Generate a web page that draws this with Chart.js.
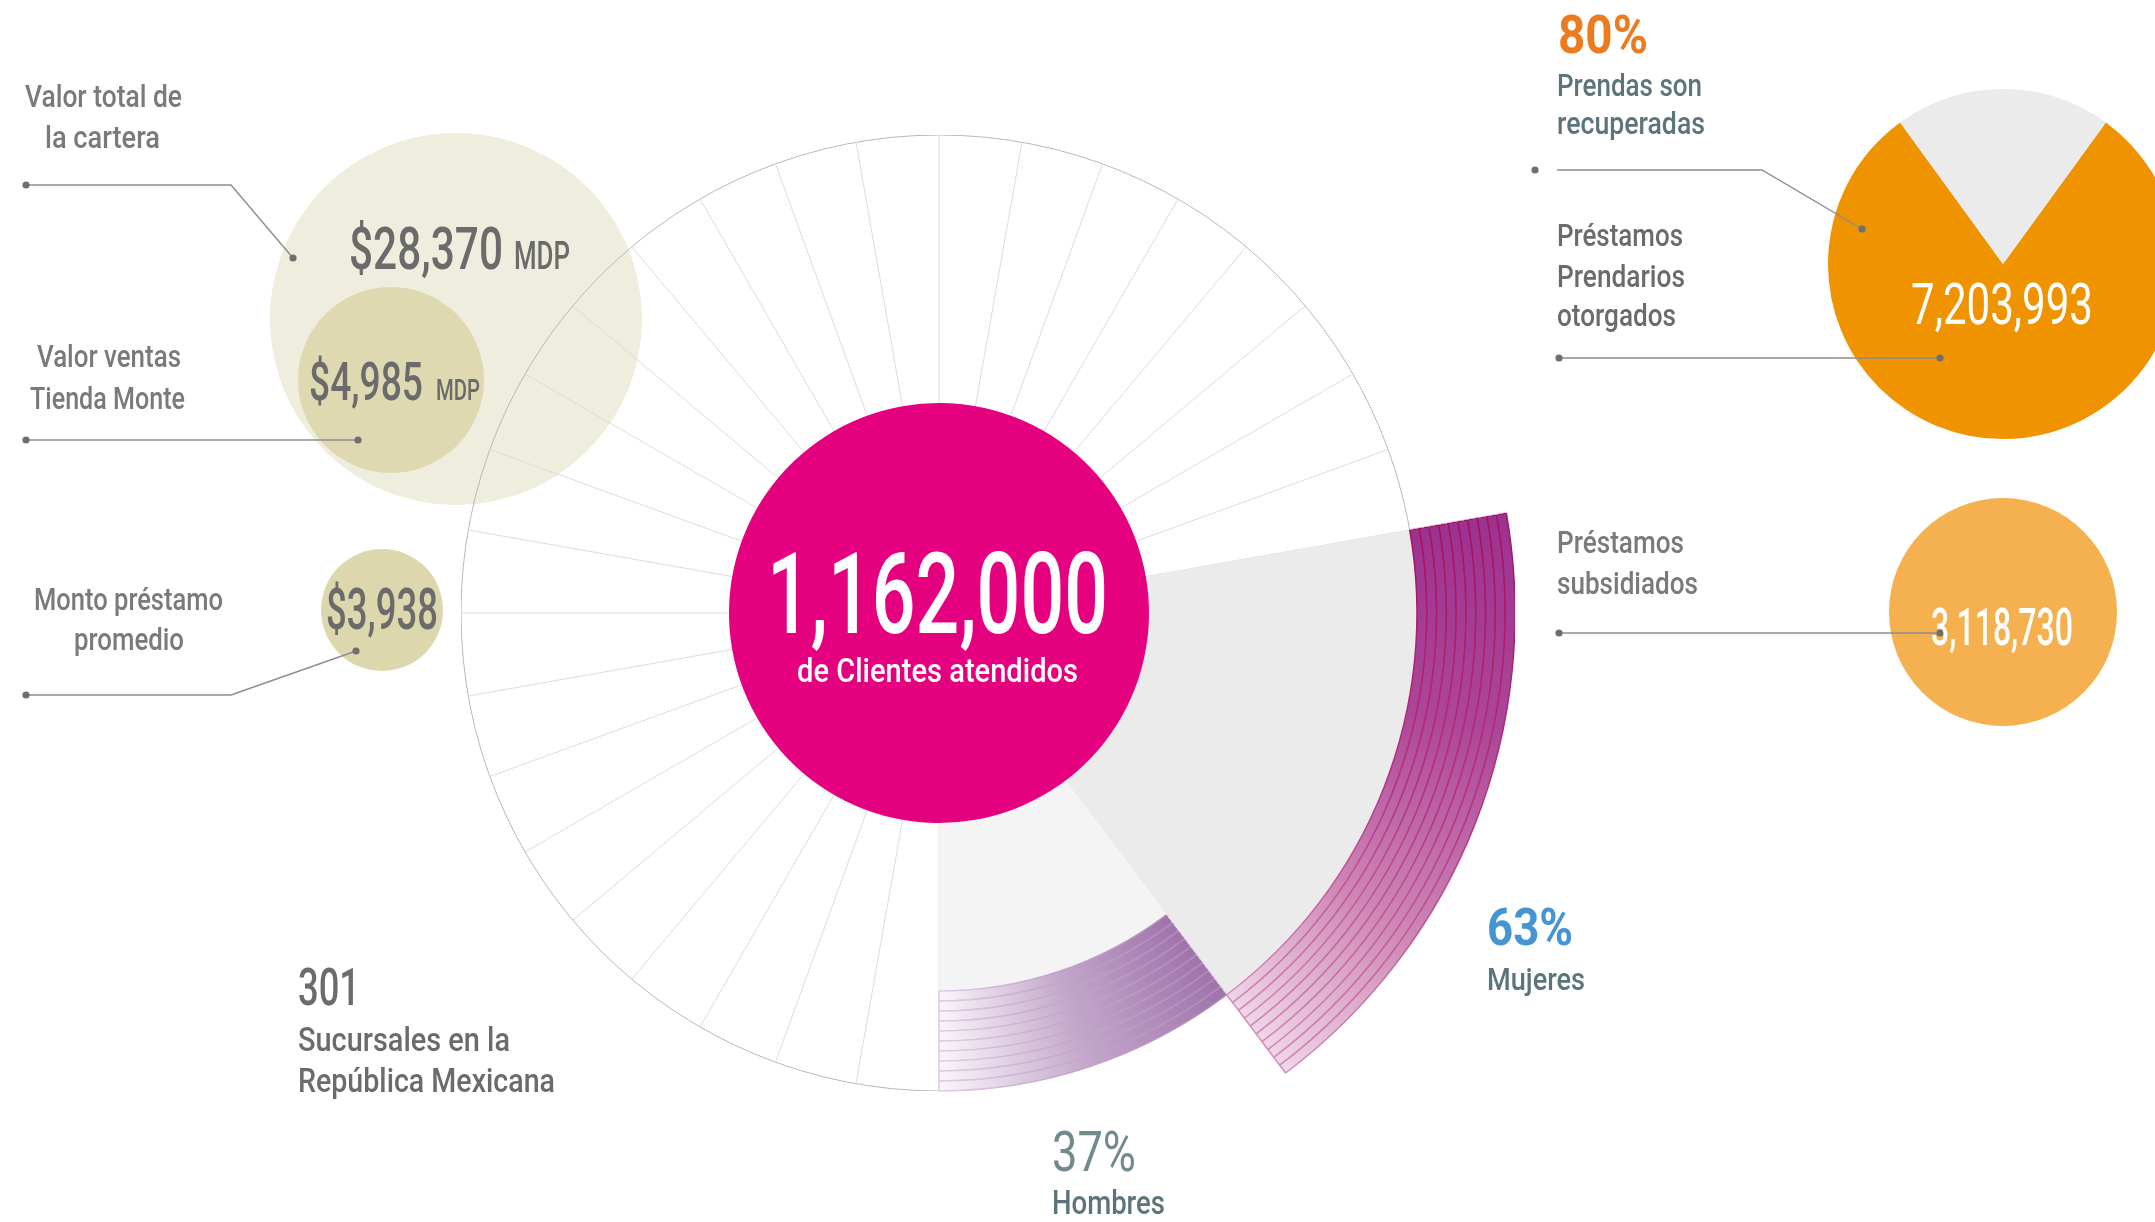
<!DOCTYPE html>
<html lang="es">
<head>
<meta charset="utf-8">
<title>Clientes atendidos</title>
<script src="https://cdn.jsdelivr.net/npm/chart.js@4.4.1/dist/chart.umd.min.js"></script>
<style>
  html, body { margin: 0; padding: 0; background: #fff; }
  body { position: relative; width: 2155px; height: 1222px; overflow: hidden; }
  canvas { position: absolute; }
  .lbl { position: absolute; white-space: nowrap; transform-origin: 0 0; }
  .bl { display: inline-block; width: 0; height: 0; vertical-align: baseline; }
</style>
</head>
<body>
<canvas id="bubbles"></canvas>
<canvas id="radial"></canvas>
<canvas id="stripes"></canvas>
<canvas id="pie"></canvas>
<canvas id="leaders"></canvas>
<script>
/* ── Datos ── */
const genderLabels = ["Mujeres", "Hombres"];
const genderShare = [63, 37];                 // % (el diseño usa 1 % = 1°)
const genderShareText = ["63%", "37%"];
const clientsValue = "1,162,000";
const clientsCaption = "de Clientes atendidos";
const portfolioLabels = [["Valor total de", "la cartera"], ["Valor ventas", "Tienda Monte"], ["Monto préstamo", "promedio"]];
const portfolioValues = ["$28,370", "$4,985", "$3,938"];
const portfolioUnits = ["MDP", "MDP", ""];
const recoveredShare = [80, 20];              // prendas recuperadas / resto
const recoveredText = "80%";
const recoveredLabel = ["Prendas son", "recuperadas"];
const loanLabels = [["Préstamos", "Prendarios", "otorgados"], ["Préstamos", "subsidiados"]];
const loanValues = ["7,203,993", "3,118,730"];
const branchValue = "301";
const branchLabel = ["Sucursales en la", "República Mexicana"];

/* ── Layout ── */
const PAGE_W = 2155, PAGE_H = 1222;
const C = { x: 939, y: 613 };                 // centro del radial
const R_OUT = 478, R_HOM = 378, R_STRIPE = 576, R_PINK = 210;
const N_STRIPES = 10, N_SPOKES = 36;
const START = 80;                             // grados desde arriba (= -10° canvas)
const PIE = { x: 2003, y: 264, r: 175 };
const BUBBLES = [
  { x: 456, y: 319, r: 186, color: "#efedde" },
  { x: 391, y: 380, r: 93, color: "#dfd9b2" },
  { x: 382, y: 610, r: 61, color: "#ddd7ae" },
  { x: 2003, y: 612, r: 114, color: "#f5b04f" },
];
const LEADERS = [
  { pts: [[26, 185], [231, 185], [293, 258]], dots: [1, 1] },
  { pts: [[26, 440], [358, 440]], dots: [1, 1] },
  { pts: [[26, 695], [231, 695], [356, 651]], dots: [1, 1] },
  { pts: [[1557, 170], [1762, 170], [1862, 229]], dots: [0, 1] },
  { pts: [[1535, 170]], dots: [1, 1] },
  { pts: [[1559, 358], [1940, 358]], dots: [1, 1] },
  { pts: [[1559, 633], [1940, 633]], dots: [1, 1] },
];

const FONT = 'Roboto, "DejaVu Sans Condensed", sans-serif';
const GREY = "#7a7a7a", DARK = "#6b6b6b", TEAL = "#5c747a";

function place(cv, left, top, w, h) {
  cv.width = w; cv.height = h;
  cv.style.left = left + "px"; cv.style.top = top + "px";
  cv.style.width = w + "px"; cv.style.height = h + "px";
}
const quiet = { legend: { display: false }, tooltip: { enabled: false } };
const flat = { autoPadding: false, padding: 0 };
const pageScales = {
  x: { type: "linear", min: 0, max: PAGE_W, display: false },
  y: { type: "linear", min: 0, max: PAGE_H, reverse: true, display: false },
};

/* ── Burbujas (fondo) ── */
const bubCv = document.getElementById("bubbles");
place(bubCv, 0, 0, PAGE_W, PAGE_H);
new Chart(bubCv, {
  type: "bubble",
  data: { datasets: [{
    data: BUBBLES.map(b => ({ x: b.x, y: b.y, r: b.r })),
    backgroundColor: BUBBLES.map(b => b.color),
    borderWidth: 0, hoverBorderWidth: 0, clip: false,
  }] },
  options: { responsive: false, animation: false, events: [], layout: flat, plugins: quiet, scales: pageScales },
});

/* ── Radial: radios, círculo exterior y sectores grises ── */
const radCv = document.getElementById("radial");
place(radCv, C.x - R_OUT, C.y - R_OUT, 2 * R_OUT, 2 * R_OUT);
new Chart(radCv, {
  type: "polarArea",
  data: {
    labels: Array.from({ length: N_SPOKES }, () => ""),
    datasets: [{
      data: [R_OUT, R_HOM],
      angle: c => genderShare[c.dataIndex],
      backgroundColor: ["#ebebeb", "#f4f4f4"],
      borderWidth: 0,
    }],
  },
  options: {
    responsive: false, animation: false, events: [], startAngle: START, layout: flat, plugins: quiet,
    scales: { r: {
      min: 0, max: R_OUT, startAngle: START,
      ticks: { display: false, stepSize: R_OUT },
      grid: { color: "#b8b8b8", lineWidth: 1 },
      angleLines: { display: true, color: "#dcdcdc", lineWidth: 1 },
      pointLabels: { display: false },
    } },
  },
});

/* ── Franjas de género + círculo central ── */
const gradCache = {};
function conic(chart, key, startDeg, span, stops) {
  if (gradCache[key]) return gradCache[key];
  const a = chart.chartArea;
  if (!a) return "transparent";
  const g = chart.ctx.createConicGradient(startDeg * Math.PI / 180, (a.left + a.right) / 2, (a.top + a.bottom) / 2);
  stops.forEach(([p, col]) => g.addColorStop(p * span / 360, col));
  return (gradCache[key] = g);
}
const segStart = [START - 90, START - 90 + genderShare[0]];
const FILL = [
  [[0, "#9c3290"], [0.35, "#ad4697"], [0.7, "#cd86b5"], [1, "#eed6e6"]],
  [[0, "#9f73ab"], [0.5, "#c3a6ca"], [1, "#faf6fa"]],
];
const LINE = [
  [[0, "#a6105c"], [0.5, "#b83282"], [1, "#d48cbb"]],
  [[0, "#b08bba"], [0.6, "#c6aacd"], [1, "#dfcde3"]],
];
const rest = 360 - genderShare.reduce((a, b) => a + b, 0);
function ring(k, w) {
  return {
    data: [...genderShare, rest], weight: w,
    backgroundColor: c => c.dataIndex === k ? conic(c.chart, "f" + k, segStart[k], genderShare[k], FILL[k]) : "transparent",
    borderColor: c => c.dataIndex === k ? conic(c.chart, "l" + k, segStart[k], genderShare[k], LINE[k]) : "transparent",
    borderWidth: c => c.dataIndex === k ? 1.5 : 0,
  };
}
const rings = [];
for (let i = 0; i < N_STRIPES; i++) rings.push(ring(0, (R_STRIPE - R_OUT) / N_STRIPES));
for (let i = 0; i < N_STRIPES; i++) rings.push(ring(1, (R_OUT - R_HOM) / N_STRIPES));
rings.push({ data: [1], backgroundColor: "transparent", borderWidth: 0, weight: R_HOM - R_PINK });
rings.push({ data: [1], backgroundColor: "#e4007f", borderWidth: 0, weight: R_PINK });

const strCv = document.getElementById("stripes");
place(strCv, C.x - R_STRIPE, C.y - R_STRIPE, 2 * R_STRIPE, 2 * R_STRIPE);
new Chart(strCv, {
  type: "doughnut",
  data: { labels: [...genderLabels, ""], datasets: rings },
  options: {
    responsive: false, animation: false, events: [], layout: flat, plugins: quiet,
    rotation: START, cutout: 0, radius: R_STRIPE, hoverOffset: 0, spacing: 0,
  },
});

/* ── Pastel de prendas recuperadas ── */
const pieCv = document.getElementById("pie");
place(pieCv, PIE.x - PIE.r, PIE.y - PIE.r, 2 * PIE.r, 2 * PIE.r);
new Chart(pieCv, {
  type: "pie",
  data: { labels: ["Recuperadas", "Resto"], datasets: [{
    data: recoveredShare, backgroundColor: ["#f09300", "#ebebeb"], borderWidth: 0,
  }] },
  options: {
    responsive: false, animation: false, events: [], layout: flat, plugins: quiet,
    rotation: recoveredShare[1] * 3.6 / 2, radius: PIE.r, hoverOffset: 0,
  },
});

/* ── Líneas guía ── */
const leadCv = document.getElementById("leaders");
place(leadCv, 0, 0, PAGE_W, PAGE_H);
new Chart(leadCv, {
  type: "scatter",
  data: { datasets: LEADERS.map(l => ({
    data: l.pts.map(([x, y]) => ({ x, y })),
    showLine: l.pts.length > 1, tension: 0, clip: false,
    borderColor: "#8d8d8d", borderWidth: 1.4,
    pointRadius: l.pts.map((_, i) => (i === 0 && l.dots[0]) || (i === l.pts.length - 1 && l.dots[1]) ? 3.6 : 0),
    pointBackgroundColor: "#6f6f6f", pointBorderWidth: 0,
  })) },
  options: { responsive: false, animation: false, events: [], layout: flat, plugins: quiet, scales: pageScales },
});

/* ── Textos ── */
// [texto, x izq, x der, línea base, tamaño, color, peso]
const TEXTS = [
  [portfolioLabels[0][0], 25, 182, 107, 31, GREY, 500],
  [portfolioLabels[0][1], 45, 160, 148, 31, GREY, 500],
  [portfolioValues[0], 349, 503, 269, 60, DARK, 500],
  [portfolioUnits[0], 514, 570, 269, 38, DARK, 500],
  [portfolioLabels[1][0], 37, 181, 367, 31, GREY, 500],
  [portfolioLabels[1][1], 30, 185, 409, 31, GREY, 500],
  [portfolioValues[1], 309, 423, 400, 53, DARK, 500],
  [portfolioUnits[1], 436, 480, 400, 29, DARK, 500],
  [portfolioLabels[2][0], 34, 223, 610, 31, GREY, 500],
  [portfolioLabels[2][1], 74, 184, 650, 31, GREY, 500],
  [portfolioValues[2], 326, 438, 629, 57, DARK, 500],
  [recoveredText, 1558, 1648, 53, 53, "#ec7a1f", 700],
  [recoveredLabel[0], 1557, 1702, 96, 32, TEAL, 500],
  [recoveredLabel[1], 1557, 1705, 134, 32, TEAL, 500],
  [loanLabels[0][0], 1557, 1683, 246, 32, DARK, 500],
  [loanLabels[0][1], 1557, 1685, 287, 32, DARK, 500],
  [loanLabels[0][2], 1557, 1676, 326, 32, DARK, 500],
  [loanValues[0], 1911, 2093, 324, 57, "#ffffff", 400],
  [loanLabels[1][0], 1557, 1684, 553, 32, GREY, 500],
  [loanLabels[1][1], 1557, 1698, 594, 32, GREY, 500],
  [loanValues[1], 1931, 2073, 645, 52, "#ffffff", 500],
  [branchValue, 298, 360, 1005, 52, DARK, 500],
  [branchLabel[0], 298, 510, 1051, 33, DARK, 500],
  [branchLabel[1], 298, 555, 1092, 33, DARK, 500],
  [genderShareText[1], 1052, 1136, 1171, 56, "#72898d", 400],
  [genderLabels[1], 1052, 1165, 1214, 34, TEAL, 500],
  [genderShareText[0], 1487, 1573, 945, 52, "#4595d2", 700],
  [genderLabels[0], 1487, 1585, 990, 32, TEAL, 500],
  [clientsValue, 767, 1108, 633, 113, "#ffffff", 500],
  [clientsCaption, 797, 1078, 682, 33, "#ffffff", 500],
];

TEXTS.forEach(([t, x0, x1, base, size, color, weight]) => {
  const el = document.createElement("div");
  el.className = "lbl";
  el.appendChild(document.createTextNode(t));
  const mark = document.createElement("span");
  mark.className = "bl";
  el.appendChild(mark);
  el.style.font = `${weight || 400} ${size}px ${FONT}`;
  el.style.lineHeight = size + "px";
  el.style.color = color;
  document.body.appendChild(el);
  const w = el.getBoundingClientRect().width;
  el.style.left = x0 + "px";
  el.style.top = (base - mark.offsetTop) + "px";
  el.style.transform = `scaleX(${(x1 - x0) / w})`;
});
</script>
</body>
</html>
